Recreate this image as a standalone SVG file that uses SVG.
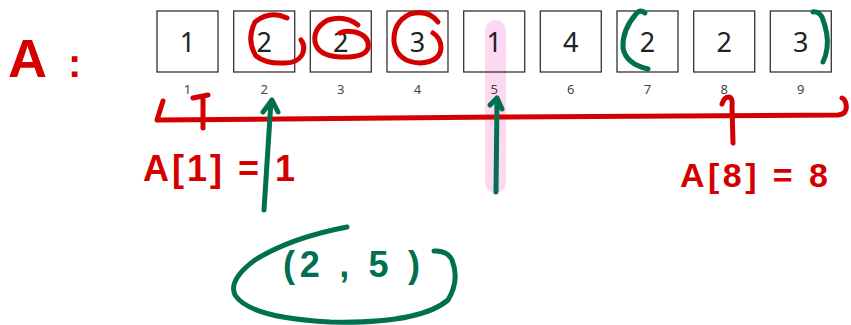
<svg xmlns="http://www.w3.org/2000/svg" width="851" height="325" viewBox="0 0 851 325">
<style>
.box{fill:#fff;stroke:#333;stroke-width:1.3}
.val{font-family:"Noto Sans","DejaVu Sans",sans-serif;font-size:27px;fill:#222;text-anchor:middle}
.idx{font-family:"Noto Sans","DejaVu Sans",sans-serif;font-size:13px;fill:#444;text-anchor:middle}
.red{fill:none;stroke:#d40000;stroke-width:5;stroke-linecap:round;stroke-linejoin:round}
.grn{fill:none;stroke:#007050;stroke-width:5;stroke-linecap:round;stroke-linejoin:round}
.hr{font-family:"Liberation Sans",Arial,sans-serif;font-weight:bold;fill:#d40000}
.hg{font-family:"Liberation Sans",Arial,sans-serif;font-weight:bold;fill:#007050}
</style>
<rect width="851" height="325" fill="#fff"/>
<rect id="highlight" x="485" y="20" width="21" height="173" rx="10.5" fill="#fcd9f0"/>
<g id="array">
<g id="cell1"><rect class="box" x="157" y="11" width="61" height="61"/><text class="val" x="187.5" y="52">1</text><text class="idx" x="187.5" y="94">1</text></g>
<g id="cell2"><rect class="box" x="233.7" y="11" width="61" height="61"/><text class="val" x="264.2" y="52">2</text><text class="idx" x="264.2" y="94">2</text></g>
<g id="cell3"><rect class="box" x="310.3" y="11" width="61" height="61"/><text class="val" x="340.8" y="52">2</text><text class="idx" x="340.8" y="94">3</text></g>
<g id="cell4"><rect class="box" x="387" y="11" width="61" height="61"/><text class="val" x="417.5" y="52">3</text><text class="idx" x="417.5" y="94">4</text></g>
<g id="cell5"><rect class="box" x="463.7" y="11" width="61" height="61" fill-opacity="0"/><text class="val" x="494.2" y="52">1</text><text class="idx" x="494.2" y="94">5</text></g>
<g id="cell6"><rect class="box" x="540.3" y="11" width="61" height="61"/><text class="val" x="570.8" y="52">4</text><text class="idx" x="570.8" y="94">6</text></g>
<g id="cell7"><rect class="box" x="617" y="11" width="61" height="61"/><text class="val" x="647.5" y="52">2</text><text class="idx" x="647.5" y="94">7</text></g>
<g id="cell8"><rect class="box" x="693.7" y="11" width="61" height="61"/><text class="val" x="724.2" y="52">2</text><text class="idx" x="724.2" y="94">8</text></g>
<g id="cell9"><rect class="box" x="770.3" y="11" width="61" height="61"/><text class="val" x="800.8" y="52">3</text><text class="idx" x="800.8" y="94">9</text></g>
</g>
<g id="connectors">
<path class="red" d="M163 101 L157 120 Q300 118 500 117 T838 115 Q848 114 846 104 Q845 99 842 98"/>
<path class="red" d="M203 128 L203 96 M193 98 L208 95"/>
<path class="red" d="M722 104 Q724 97 729 97 Q733 98 732 106 L733 143"/>
<path class="grn" d="M264 210 L271 101 M263 112 L272 100 L278 112"/>
<path class="grn" d="M496 192 L497 99 M490 105 L497 98 L502 109"/>
</g>
<g id="marks">
<path class="red" d="M287 18 Q270 10 255 22 Q246 40 256 56 Q266 64 285 63 Q297 63 302 55 Q306 46 301 40"/>
<path class="red" d="M358 25 Q345 15 328 20 Q313 28 315 42 Q318 56 340 57 Q365 58 368 48 Q370 36 355 32 Q345 30 340 33"/>
<path class="red" d="M438 22 Q428 9 410 14 Q393 22 394 42 Q397 62 420 63 Q440 62 441 48 Q441 38 433 33"/>
<path class="grn" d="M645 13 Q640 9 636 14 Q622 30 623 48 Q626 64 648 69"/>
<path class="grn" d="M813 12 Q818 11 822 17 Q829 35 827 48 Q826 56 823 62"/>
<path class="grn" d="M347 227 Q290 238 255 260 Q228 280 235 295 Q250 318 330 322 Q420 324 448 300 Q460 280 452 260 Q447 250 434 251"/>
</g>
<g id="labels">
<text class="hr" x="8" y="77" font-size="54">A<tspan x="68" font-size="40">:</tspan></text>
<text class="hr" x="143" y="181" font-size="36" textLength="152" lengthAdjust="spacing">A[1] = 1</text>
<text class="hr" x="680" y="187" font-size="34" textLength="148" lengthAdjust="spacing">A[8] = 8</text>
<text class="hg" x="283" y="277" font-size="36" textLength="137" lengthAdjust="spacing">(2 , 5 )</text>
</g>
</svg>
